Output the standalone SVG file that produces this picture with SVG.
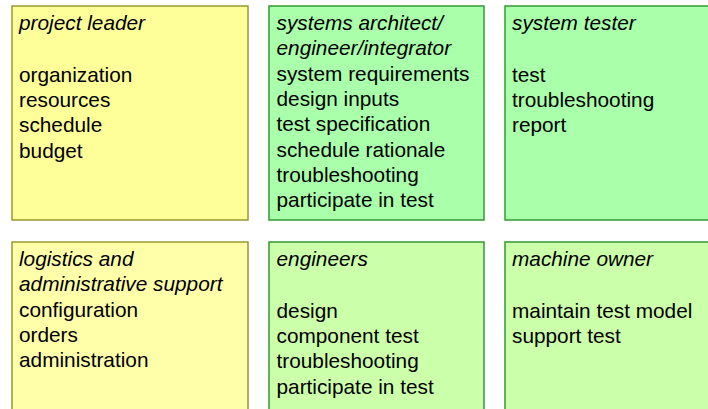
<svg xmlns="http://www.w3.org/2000/svg" width="708" height="409" viewBox="0 0 708 409">
<style>
text{font-family:"Liberation Sans",Arial,sans-serif;font-size:20.8px;fill:#000}
.h{font-style:italic}
.y1{fill:#FFFF99;stroke:#999933;stroke-width:1.5}
.y2{fill:#FFFFAA;stroke:#999933;stroke-width:1.5}
.g1{fill:#AAFFAA;stroke:#339933;stroke-width:1.5}
.g2{fill:#CCFFAA;stroke:#339933;stroke-width:1.5}
</style>
<rect width="708" height="409" fill="#fff"/>
<g id="project-leader">
<rect class="y1" x="12" y="6" width="236" height="214"/>
<text x="19" y="30"><tspan class="h">project leader</tspan><tspan x="19" y="81.6">organization</tspan><tspan x="19" y="106.9">resources</tspan><tspan x="19" y="132.2">schedule</tspan><tspan x="19" y="157.5">budget</tspan></text>
</g>
<g id="systems-architect">
<rect class="g1" x="269" y="6" width="215" height="214"/>
<text x="276.5" y="30"><tspan class="h">systems architect/</tspan><tspan class="h" x="276.5" y="55.3">engineer/integrator</tspan><tspan x="276.5" y="80.6">system requirements</tspan><tspan x="276.5" y="105.9">design inputs</tspan><tspan x="276.5" y="131.2">test specification</tspan><tspan x="276.5" y="156.5">schedule rationale</tspan><tspan x="276.5" y="181.8">troubleshooting</tspan><tspan x="276.5" y="207.1">participate in test</tspan></text>
</g>
<g id="system-tester">
<rect class="g1" x="505" y="6" width="220" height="214"/>
<text x="512" y="30"><tspan class="h">system tester</tspan><tspan x="512" y="81.6">test</tspan><tspan x="512" y="106.9">troubleshooting</tspan><tspan x="512" y="132.2">report</tspan></text>
</g>
<g id="logistics">
<rect class="y2" x="12" y="242" width="236" height="214"/>
<text x="19" y="266"><tspan class="h">logistics and</tspan><tspan class="h" x="19" y="291.3">administrative support</tspan><tspan x="19" y="316.6">configuration</tspan><tspan x="19" y="341.9">orders</tspan><tspan x="19" y="367.2">administration</tspan></text>
</g>
<g id="engineers">
<rect class="g2" x="269" y="242" width="215" height="214"/>
<text x="276.5" y="266"><tspan class="h">engineers</tspan><tspan x="276.5" y="317.6">design</tspan><tspan x="276.5" y="342.9">component test</tspan><tspan x="276.5" y="368.2">troubleshooting</tspan><tspan x="276.5" y="393.5">participate in test</tspan></text>
</g>
<g id="machine-owner">
<rect class="g2" x="505" y="242" width="220" height="214"/>
<text x="512" y="266"><tspan class="h">machine owner</tspan><tspan x="512" y="317.6">maintain test model</tspan><tspan x="512" y="342.9">support test</tspan></text>
</g>
<g id="connectors"></g>
</svg>
